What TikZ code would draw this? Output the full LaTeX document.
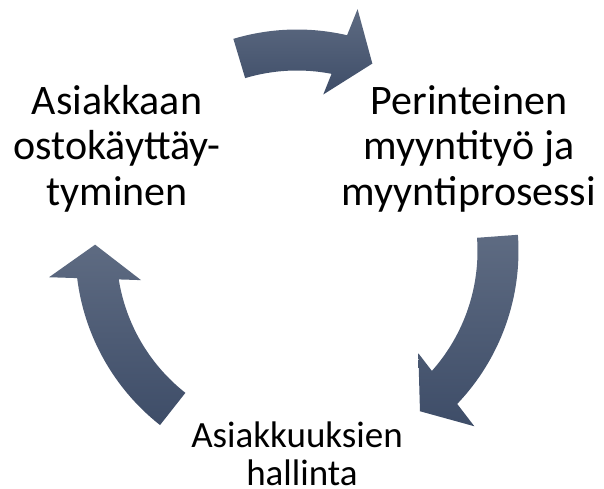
\documentclass[tikz,border=0pt]{standalone}
\usepackage{fontspec}
\setmainfont{Carlito}
\usetikzlibrary{calc}
\definecolor{arrtop}{HTML}{5E6B82}
\definecolor{arrbot}{HTML}{3E4D68}
\newcommand\cycarrow[2]{%
  \path[cyc] ($(C)+(#1:221.5)$) arc[start angle=#1, end angle=#2+8.83, radius=221.5]
    -- ($(C)+(#2:247)+(#2+90:34)$) -- ($(C)+(#2:202)$)
    -- ($(C)+(#2:155)+(#2+90:34)$) -- ($(C)+(#2+10.86:180.5)$)
    arc[start angle=#2+10.86, end angle=#1, radius=180.5] -- cycle;}
\begin{document}
\begin{tikzpicture}[x=1pt,y=1pt,
  lbl/.style={anchor=base, inner sep=0pt, font=\fontsize{42}{46}\selectfont},
  lbls/.style={anchor=base, inner sep=0pt, font=\fontsize{37}{40}\selectfont},
  cyc/.style={top color=arrtop, bottom color=arrbot, draw=none}]
\useasboundingbox (0,0) rectangle (604,488);
\coordinate (C) at (297,237);
\cycarrow{106.7}{68.1}
\cycarrow{4.2}{-52.5}
\cycarrow{231.8}{178.2}
\node[lbl] (a1) at (117,373.5) {Asiakkaan};
\node[lbl] (a2) at (117,328) {ostokäyttäy-};
\node[lbl] (a3) at (117,282.5) {tyminen};
\node[lbl] (b1) at (469,373.5) {Perinteinen};
\node[lbl] (b2) at (469,328) {myyntityö ja};
\node[lbl] (b3) at (469,282.5) {myyntiprosessi};
\node[lbls] (c1) at (297,40.5) {Asiakkuuksien};
\node[lbls] (c2) at (302,2.5) {hallinta};
\end{tikzpicture}
\end{document}
